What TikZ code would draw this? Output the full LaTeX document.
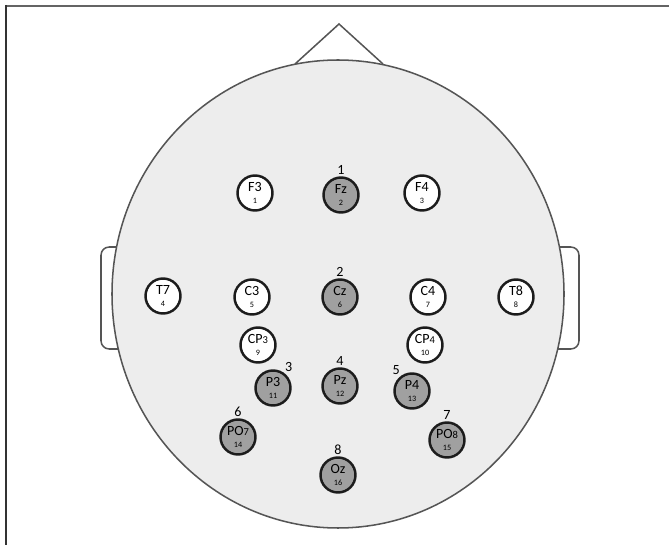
\documentclass[tikz,border=0pt]{standalone}
\usepackage{fontspec}
\setmainfont{Carlito}
\definecolor{cHead}{RGB}{237,237,237}
\definecolor{cOutline}{RGB}{85,85,85}
\definecolor{cRing}{RGB}{28,28,28}
\definecolor{cFillSel}{RGB}{160,160,160}
\definecolor{cFrame}{RGB}{100,100,100}
\newcommand{\eidx}[1]{{\fontsize{7}{7}\selectfont #1}}
\newcommand{\odig}[1]{{\fontsize{9}{9}\selectfont #1}}
\tikzset{
  %% head outline, ears, nose
  headline/.style={draw=cOutline, line width=1.3pt},
  %% electrodes
  elec/.style={circle, draw=cRing, line width=2.1pt, minimum size=1.05cm,
               inner sep=0pt, align=center, font=\fontsize{12}{10}\selectfont},
  elecW/.style={elec, fill=white},
  elecG/.style={elec, fill=cFillSel},
  %% channel numbers above the grey electrodes
  chan/.style={font=\fontsize{12}{12}\selectfont, inner sep=1pt},
}

\begin{document}
\begin{tikzpicture}[x=0.03cm, y=-0.03cm]

\useasboundingbox (0,0) rectangle (669,545);

%% ============================================================
%%  FRAME (top and left edge)
%% ============================================================
\draw[cFrame, line width=2.2pt] (5,6) -- (669,6);
\draw[cRing!90, line width=1.4pt] (6,5) -- (6,545);

%% ============================================================
%%  HEAD: ears, nose, scalp  (centre 338,294)
%% ============================================================
\def\Hx{338}
\def\Hy{294}
\draw[headline, fill=white, rounded corners=7pt]
  (130,247) -- (101,247) -- (101,349) -- (130,349);
\draw[headline, fill=white, rounded corners=7pt]
  (546,247) -- (579,247) -- (579,349) -- (546,349);
\draw[headline] (295,64) -- (339,24) -- (383,64);
\draw[headline, fill=cHead] (\Hx,\Hy) ellipse [x radius=226, y radius=234];

%% ============================================================
%%  ELECTRODES
%% ============================================================
%% frontal row
\node[elecW] (F3) at (255,193) {F3\\\eidx{1}};
\node[elecG, label={[chan]above:1}] (Fz) at (341,195) {Fz\\\eidx{2}};
\node[elecW] (F4) at (422,193) {F4\\\eidx{3}};

%% central row
\node[elecW] (T7) at (163,296) {T7\\\eidx{4}};
\node[elecW] (C3) at (252,297) {C3\\\eidx{5}};
\node[elecG, label={[chan]above:2}] (Cz) at (340,297) {Cz\\\eidx{6}};
\node[elecW] (C4) at (428,297) {C4\\\eidx{7}};
\node[elecW] (T8) at (516,297) {T8\\\eidx{8}};

%% centro-parietal
\node[elecW] (CP3) at (258,345) {CP\odig{3}\\\eidx{9}};
\node[elecW] (CP4) at (425,345) {CP\odig{4}\\\eidx{10}};

%% parietal
\node[elecG, label={[chan]55:3}]  (P3) at (273,388) {P3\\\eidx{11}};
\node[elecG, label={[chan]above:4}] (Pz) at (340,386) {Pz\\\eidx{12}};
\node[elecG, label={[chan]125:5}] (P4) at (412,391) {P4\\\eidx{13}};

%% parieto-occipital, occipital
\node[elecG, label={[chan]above:6}] (PO7) at (238,437) {PO\odig{7}\\\eidx{14}};
\node[elecG, label={[chan]above:7}] (PO8) at (447,440) {PO\odig{8}\\\eidx{15}};
\node[elecG, label={[chan]above:8}] (Oz)  at (338,475) {Oz\\\eidx{16}};

\end{tikzpicture}
\end{document}
